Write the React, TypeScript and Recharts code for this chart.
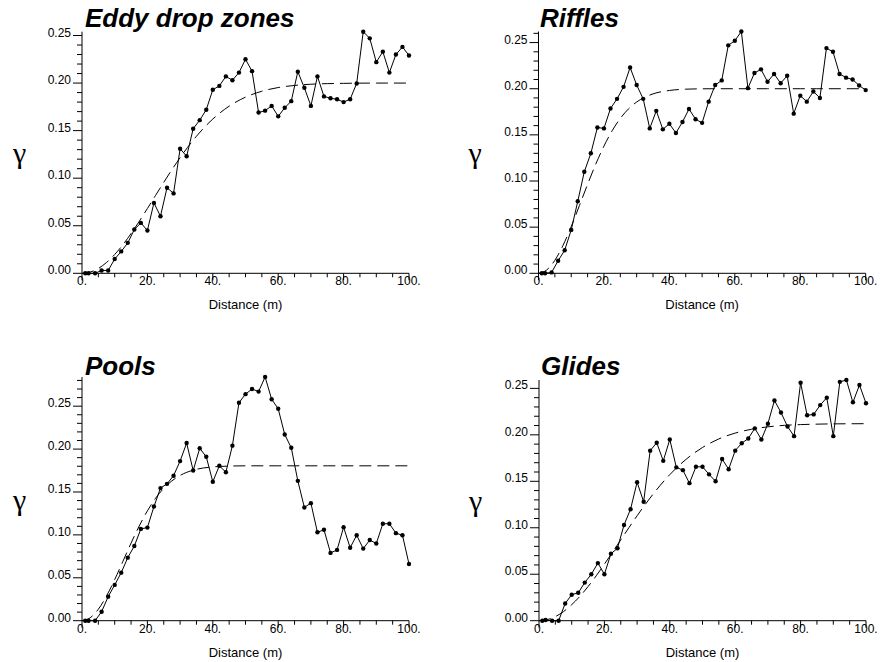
import React from 'react';
import { LineChart, Line, XAxis, YAxis, Label } from 'recharts';

// Lag distances (m) of the experimental variogram points
const lagDistances = [1, 2, 4, 6, 8, 10, 12, 14, 16, 18, 20, 22, 24, 26, 28, 30, 32, 34, 36, 38, 40, 42, 44, 46, 48, 50, 52, 54, 56, 58, 60, 62, 64, 66, 68, 70, 72, 74, 76, 78, 80, 82, 84, 86, 88, 90, 92, 94, 96, 98, 100];

const eddyGamma = [0, 0, 0, 0.003, 0.003, 0.015, 0.023, 0.032, 0.046, 0.053, 0.045, 0.074, 0.06, 0.09, 0.084, 0.131, 0.123, 0.152, 0.161, 0.172, 0.193, 0.197, 0.207, 0.203, 0.211, 0.225, 0.2125, 0.169, 0.171, 0.176, 0.165, 0.174, 0.181, 0.212, 0.195, 0.176, 0.207, 0.186, 0.184, 0.183, 0.18, 0.183, 0.1996, 0.254, 0.247, 0.222, 0.233, 0.211, 0.23, 0.238, 0.229];

const rifflesGamma = [0, 0, 0.001, 0.0136, 0.025, 0.047, 0.078, 0.11, 0.13, 0.158, 0.157, 0.1785, 0.189, 0.202, 0.223, 0.204, 0.189, 0.157, 0.176, 0.156, 0.162, 0.152, 0.164, 0.178, 0.167, 0.163, 0.186, 0.204, 0.209, 0.247, 0.252, 0.262, 0.2006, 0.217, 0.221, 0.2075, 0.216, 0.206, 0.214, 0.173, 0.1925, 0.186, 0.197, 0.19, 0.244, 0.24, 0.216, 0.212, 0.21, 0.2035, 0.1985];

const poolsGamma = [0, 0, 0, 0.0105, 0.028, 0.0417, 0.056, 0.0735, 0.087, 0.107, 0.1085, 0.133, 0.1545, 0.1595, 0.169, 0.186, 0.207, 0.175, 0.201, 0.191, 0.162, 0.1805, 0.173, 0.204, 0.254, 0.264, 0.27, 0.267, 0.284, 0.258, 0.247, 0.217, 0.2015, 0.163, 0.132, 0.137, 0.103, 0.106, 0.079, 0.0825, 0.109, 0.085, 0.0996, 0.084, 0.094, 0.09, 0.113, 0.113, 0.102, 0.0996, 0.066];

const glidesGamma = [0, 0.0007, 0, 0, 0.0185, 0.028, 0.03, 0.041, 0.05, 0.062, 0.05, 0.072, 0.078, 0.103, 0.12, 0.149, 0.128, 0.183, 0.1915, 0.172, 0.195, 0.165, 0.162, 0.148, 0.1656, 0.1656, 0.1575, 0.15, 0.174, 0.163, 0.183, 0.191, 0.196, 0.207, 0.195, 0.212, 0.237, 0.224, 0.209, 0.1986, 0.256, 0.221, 0.222, 0.232, 0.24, 0.1986, 0.257, 0.259, 0.235, 0.2536, 0.234];

// Fitted model curves (dashed), read at these distances
const modelDistances = [0, 2.5, 5, 7.5, 10, 12.5, 15, 17.5, 20, 22.5, 25, 27.5, 30, 35, 40, 45, 50, 55, 60, 65, 70, 75, 80, 85, 90, 95, 100];
const eddyModel = [0, 0.0013, 0.0051, 0.0114, 0.0198, 0.03, 0.0418, 0.0546, 0.0681, 0.0819, 0.0956, 0.109, 0.1216, 0.1441, 0.1622, 0.1757, 0.1852, 0.1914, 0.1953, 0.1975, 0.1988, 0.1994, 0.1997, 0.1999, 0.2, 0.2, 0.2];
const rifflesModel = [0, 0.0036, 0.0141, 0.0303, 0.0507, 0.0733, 0.0964, 0.1183, 0.1378, 0.1544, 0.1678, 0.1781, 0.1856, 0.1944, 0.1981, 0.1995, 0.1999, 0.2, 0.2, 0.2, 0.2, 0.2, 0.2, 0.2, 0.2, 0.2, 0.2];
const poolsModel = [0, 0.0034, 0.0134, 0.0288, 0.0479, 0.0691, 0.0904, 0.1104, 0.128, 0.1427, 0.1543, 0.163, 0.1693, 0.1764, 0.1792, 0.1802, 0.1805, 0.1805, 0.1805, 0.1805, 0.1805, 0.1805, 0.1805, 0.1805, 0.1805, 0.1805, 0.1805];
const glidesModel = [0, 0.0011, 0.0044, 0.0098, 0.0172, 0.0262, 0.0367, 0.0483, 0.0608, 0.0738, 0.087, 0.1001, 0.1129, 0.1367, 0.1572, 0.1737, 0.1864, 0.1956, 0.2019, 0.206, 0.2086, 0.2102, 0.211, 0.2115, 0.2118, 0.2119, 0.212];

// Ticks and labels
const xTicks = [0, 5, 10, 15, 20, 25, 30, 35, 40, 45, 50, 55, 60, 65, 70, 75, 80, 85, 90, 95, 100];
const xTickLabels = ['0.', '20.', '40.', '60.', '80.', '100.'];
const yTicks25 = [0, 0.01, 0.02, 0.03, 0.04, 0.05, 0.06, 0.07, 0.08, 0.09, 0.1, 0.11, 0.12, 0.13, 0.14, 0.15, 0.16, 0.17, 0.18, 0.19, 0.2, 0.21, 0.22, 0.23, 0.24, 0.25];
const yTicks26 = [...yTicks25, 0.26];
const yTicks28 = [...yTicks26, 0.27, 0.28];
const yTickLabels = ['0.00', '0.05', '0.10', '0.15', '0.20', '0.25'];

const panelTitles = ['Eddy drop zones', 'Riffles', 'Pools', 'Glides'];

const FONT = '"Liberation Sans", Arial, Helvetica, sans-serif';
const W = 441;
const H = 331;
const Y_AXIS_W = 72;
const X_AXIS_H = 40;

const toPoints = (xs: number[], ys: number[]) => xs.map((d, i) => ({ d, g: ys[i] }));

const YTick = (props: any) => {
  const { x, y, payload } = props;
  const k = Math.round(payload.value * 100);
  const major = k % 5 === 0;
  return (
    <g>
      <line x1={x - (major ? 9 : 5)} y1={y} x2={x} y2={y} stroke="#000" strokeWidth={1} />
      {major && (
        <text x={x - 11} y={y + 1} textAnchor="end" fontSize={12} fontFamily={FONT} fill="#000">
          {yTickLabels[k / 5]}
        </text>
      )}
    </g>
  );
};

const XTick = (props: any) => {
  const { x, y, payload } = props;
  const v = Math.round(payload.value);
  const major = v % 20 === 0;
  return (
    <g>
      <line x1={x} y1={y} x2={x} y2={y + (major ? 7 : 4)} stroke="#000" strokeWidth={1} />
      {major && (
        <text x={x} y={y + 12} textAnchor="middle" fontSize={12} fontFamily={FONT} fill="#000">
          {xTickLabels[v / 20]}
        </text>
      )}
    </g>
  );
};

type PanelProps = {
  gamma: number[];
  model: number[];
  yMax: number;
  yTicks: number[];
  margin: { top: number; right: number; bottom: number; left: number };
  gammaOffset: number;
};

const Panel = ({ gamma, model, yMax, yTicks, margin, gammaOffset }: PanelProps) => (
  <LineChart width={W} height={H} margin={margin}>
    <XAxis
      dataKey="d"
      type="number"
      domain={[0, 100]}
      ticks={xTicks}
      interval={0}
      tickLine={false}
      tickSize={0}
      tickMargin={0}
      tick={<XTick />}
      axisLine={{ stroke: '#000', strokeWidth: 1 }}
      height={X_AXIS_H}
    >
      <Label value="Distance (m)" position="insideBottom" offset={4} fontSize={13} fontFamily={FONT} fill="#000" />
    </XAxis>
    <YAxis
      type="number"
      domain={[0, yMax]}
      ticks={yTicks}
      interval={0}
      tickLine={false}
      tickSize={0}
      tickMargin={0}
      tick={<YTick />}
      axisLine={{ stroke: '#000', strokeWidth: 1 }}
      width={Y_AXIS_W}
    >
      <Label value="γ" position="insideLeft" offset={gammaOffset} fontSize={30} fontFamily='"Liberation Serif", "Times New Roman", serif' fill="#000" />
    </YAxis>
    <Line
      data={toPoints(modelDistances, model)}
      dataKey="g"
      type="monotone"
      stroke="#000"
      strokeWidth={1}
      strokeDasharray="12 6"
      dot={false}
      isAnimationActive={false}
    />
    <Line
      data={toPoints(lagDistances, gamma)}
      dataKey="g"
      type="linear"
      stroke="#000"
      strokeWidth={1}
      dot={{ r: 2.2, fill: '#000', stroke: '#000', strokeWidth: 0 }}
      isAnimationActive={false}
    />
  </LineChart>
);

export default function App() {
  const boxes = [
    { left: 0, top: 0 },
    { left: 441, top: 0 },
    { left: 0, top: 331 },
    { left: 441, top: 331 },
  ];
  const titlePos = [
    { x: 85, y: 27 },
    { x: 540, y: 27 },
    { x: 85, y: 375 },
    { x: 541, y: 375 },
  ];
  return (
    <div style={{ position: 'absolute', left: 0, top: 0, width: 883, height: 662, background: '#fff', overflow: 'hidden' }}>
      <div style={{ position: 'absolute', ...boxes[0] }}>
        <Panel gamma={eddyGamma} model={eddyModel} yMax={0.254} yTicks={yTicks25}
          margin={{ top: 31.7, right: 32, bottom: 17.7, left: 10 }} gammaOffset={3} />
      </div>
      <div style={{ position: 'absolute', ...boxes[1] }}>
        <Panel gamma={rifflesGamma} model={rifflesModel} yMax={0.262} yTicks={yTicks26}
          margin={{ top: 31.5, right: 16.3, bottom: 17.7, left: 25.5 }} gammaOffset={2} />
      </div>
      <div style={{ position: 'absolute', ...boxes[2] }}>
        <Panel gamma={poolsGamma} model={poolsModel} yMax={0.284} yTicks={yTicks28}
          margin={{ top: 46, right: 32, bottom: 1.3, left: 10 }} gammaOffset={3} />
      </div>
      <div style={{ position: 'absolute', ...boxes[3] }}>
        <Panel gamma={glidesGamma} model={glidesModel} yMax={0.259} yTicks={yTicks25}
          margin={{ top: 49, right: 16, bottom: 1.3, left: 26 }} gammaOffset={2} />
      </div>
      <svg width={883} height={662} style={{ position: 'absolute', left: 0, top: 0, pointerEvents: 'none' }}>
        {panelTitles.map((t, i) => (
          <text key={t} x={titlePos[i].x} y={titlePos[i].y} fontSize={26} fontWeight="bold" fontStyle="italic" fontFamily={FONT} fill="#000">
            {t}
          </text>
        ))}
      </svg>
    </div>
  );
}
